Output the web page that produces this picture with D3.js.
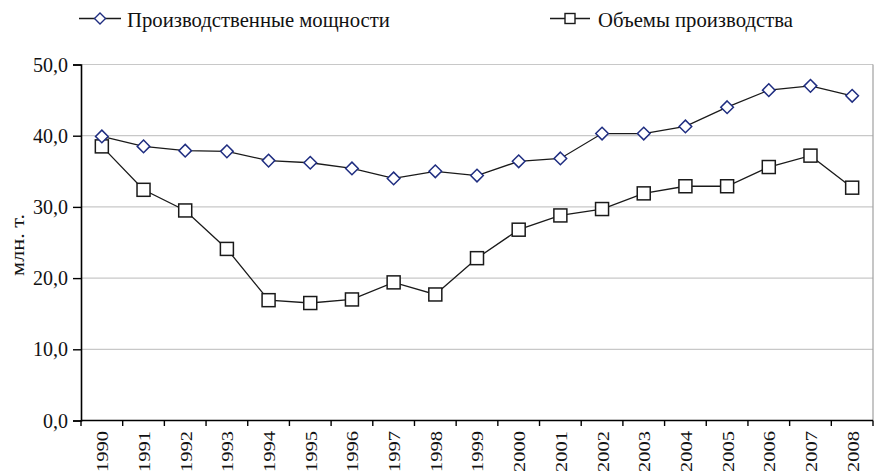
<!DOCTYPE html>
<html>
<head>
<meta charset="utf-8">
<script src="https://cdn.jsdelivr.net/npm/d3@7"></script>
<style>
  html, body { margin: 0; padding: 0; background: #fff; }
  svg { display: block; }
  svg text { font-family: 'Liberation Serif', 'Times New Roman', Times, 'DejaVu Serif', serif; }
</style>
</head>
<body>
<svg id="chart" width="879" height="474"></svg>
<script>
const years = ["1990","1991","1992","1993","1994","1995","1996","1997","1998","1999","2000","2001","2002","2003","2004","2005","2006","2007","2008"];
const capacity = [39.9, 38.5, 37.9, 37.8, 36.5, 36.2, 35.4, 34.0, 35.0, 34.4, 36.4, 36.8, 40.3, 40.3, 41.3, 44.0, 46.4, 47.0, 45.6];
const production = [38.5, 32.4, 29.5, 24.1, 16.9, 16.5, 17.0, 19.4, 17.7, 22.8, 26.8, 28.8, 29.7, 31.9, 32.9, 32.9, 35.6, 37.2, 32.7];
const yTicks = [0, 10, 20, 30, 40, 50];
const seriesNames = ["Производственные мощности", "Объемы производства"];
const yLabel = "млн. т.";

const FONT = "'Liberation Serif', 'Times New Roman', Times, 'DejaVu Serif', serif";
const svg = d3.select("#chart");
const L = 81, R = 873, T = 64.5, B = 420.5;

const x = d3.scaleBand().domain(years).range([L, R]).padding(0);
const y = d3.scaleLinear().domain([0, 50]).range([B, T]);
const cx = d => x(d) + x.bandwidth() / 2;

// stretch a text element along its own x-direction to a target width
function fitWidth(sel, target) {
  sel.each(function () {
    const w = this.getComputedTextLength();
    const t = d3.select(this);
    const base = t.attr("data-tr") || "";
    t.attr("transform", `${base} scale(${target / w},1)`);
  });
}

// gridlines
svg.append("g").selectAll("line").data(yTicks.filter(t => t > 0)).join("line")
  .attr("x1", L).attr("x2", R)
  .attr("y1", d => y(d)).attr("y2", d => y(d))
  .attr("stroke", "#c8c8c8").attr("stroke-width", 1.2);

// right border
svg.append("line").attr("x1", R).attr("x2", R).attr("y1", T).attr("y2", B)
  .attr("stroke", "#a0a0a0").attr("stroke-width", 1.2);

// Y axis
const yAxis = d3.axisLeft(y).tickValues(yTicks).tickSize(8).tickPadding(5)
  .tickFormat(d => d3.format(".1f")(d).replace(".", ","));
const gy = svg.append("g").attr("transform", `translate(${L},0)`).call(yAxis)
  .attr("font-family", FONT).attr("font-size", 20);
gy.select(".domain").attr("stroke", "#000").attr("stroke-width", 1.6);
gy.selectAll(".tick line").attr("stroke", "#000").attr("stroke-width", 1.4);
gy.selectAll(".tick text").attr("fill", "#111").attr("dy", "0.33em")
  .style("font-family", FONT).style("font-size", "20px");

// X axis
const gx = svg.append("g").attr("transform", `translate(0,${B})`);
gx.append("line").attr("x1", L).attr("x2", R).attr("y1", 0).attr("y2", 0)
  .attr("stroke", "#000").attr("stroke-width", 1.6);
const bounds = years.map(d => x(d)).concat([R]);
gx.selectAll("line.tk").data(bounds).join("line").attr("class", "tk")
  .attr("x1", d => d).attr("x2", d => d).attr("y1", 0).attr("y2", 5.5)
  .attr("stroke", "#000").attr("stroke-width", 1.4);
const xl = svg.append("g").selectAll("text").data(years).join("text")
  .attr("data-tr", d => `translate(${cx(d) + 0.5},431) rotate(-90)`)
  .attr("transform", d => `translate(${cx(d) + 0.5},431) rotate(-90)`)
  .attr("x", 0).attr("y", 0)
  .attr("text-anchor", "end").attr("dy", "0.34em")
  .style("font-family", FONT).style("font-size", "17.5px").attr("fill", "#111")
  .text(d => d);
fitWidth(xl, 41);

// Y label
const yl = svg.append("text")
  .attr("data-tr", "translate(24,245) rotate(-90)")
  .attr("transform", "translate(24,245) rotate(-90)")
  .attr("text-anchor", "middle").style("font-family", FONT).style("font-size", "19px").attr("fill", "#111")
  .text(yLabel);
fitWidth(yl, 62);

// lines
const line = d3.line().x((d, i) => cx(years[i])).y(d => y(d));
svg.append("path").datum(production).attr("d", line)
  .attr("fill", "none").attr("stroke", "#1a1a1a").attr("stroke-width", 1.3);
svg.append("path").datum(capacity).attr("d", line)
  .attr("fill", "none").attr("stroke", "#1a1a1a").attr("stroke-width", 1.3);

const diamond = (px, py, r) => `M${px},${py - r}L${px + r},${py}L${px},${py + r}L${px - r},${py}Z`;

// square markers
const sq = 13;
svg.append("g").selectAll("rect").data(production).join("rect")
  .attr("x", (d, i) => cx(years[i]) - sq / 2).attr("y", d => y(d) - sq / 2)
  .attr("width", sq).attr("height", sq)
  .attr("fill", "#fff").attr("stroke", "#1a1a1a").attr("stroke-width", 1.5);

// diamond markers
svg.append("g").selectAll("path").data(capacity).join("path")
  .attr("d", (d, i) => diamond(cx(years[i]), y(d), 6.3))
  .attr("fill", "#fff").attr("stroke", "#1f2d80").attr("stroke-width", 1.5);

// legend
const lg = svg.append("g");
const ly = 18.5;
lg.append("line").attr("x1", 79).attr("x2", 121).attr("y1", ly).attr("y2", ly)
  .attr("stroke", "#1a1a1a").attr("stroke-width", 1.3);
lg.append("path").attr("d", diamond(100, ly, 5.5))
  .attr("fill", "#fff").attr("stroke", "#1f2d80").attr("stroke-width", 1.4);
const t1 = lg.append("text").attr("data-tr", "translate(127,26.5)").attr("transform", "translate(127,26.5)")
  .style("font-family", FONT).style("font-size", "20px").attr("fill", "#111")
  .text(seriesNames[0]);
fitWidth(t1, 263);

lg.append("line").attr("x1", 550).attr("x2", 590).attr("y1", ly).attr("y2", ly)
  .attr("stroke", "#1a1a1a").attr("stroke-width", 1.3);
lg.append("rect").attr("x", 570 - 5).attr("y", ly - 5).attr("width", 10).attr("height", 10)
  .attr("fill", "#fff").attr("stroke", "#1a1a1a").attr("stroke-width", 1.4);
const t2 = lg.append("text").attr("data-tr", "translate(598,26.5)").attr("transform", "translate(598,26.5)")
  .style("font-family", FONT).style("font-size", "20px").attr("fill", "#111")
  .text(seriesNames[1]);
fitWidth(t2, 195);
</script>
</body>
</html>
